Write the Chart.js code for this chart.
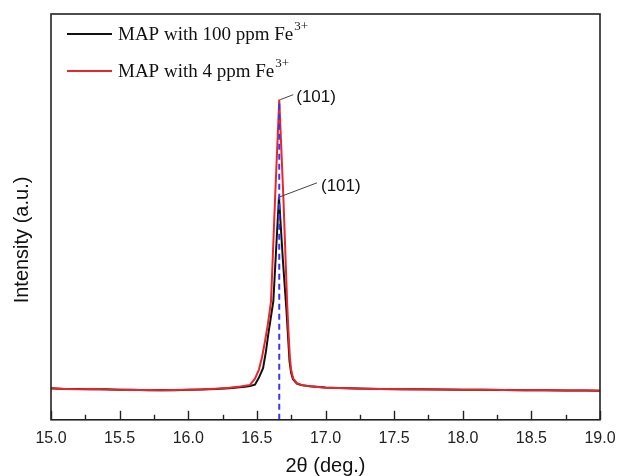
<!DOCTYPE html>
<html>
<head>
<meta charset="utf-8">
<script src="https://cdn.jsdelivr.net/npm/chart.js@4.4.1/dist/chart.umd.min.js"></script>
<style>
  html, body { margin: 0; padding: 0; background: #fff; }
  #wrap { width: 617px; height: 476px; }
</style>
</head>
<body>
<div id="wrap"><canvas id="c" width="617" height="476"></canvas></div>
<script>
// ---- data ----
const seriesNames = ["MAP with 100 ppm Fe", "MAP with 4 ppm Fe"];
const seriesSup = ["3+", "3+"];

const black2theta = [15.00, 15.10, 15.20, 15.30, 15.40, 15.50, 15.60, 15.70, 15.80, 15.90, 16.00, 16.10, 16.20, 16.30, 16.413, 16.450, 16.486, 16.515, 16.545, 16.566, 16.583, 16.603, 16.620, 16.661, 16.690, 16.716, 16.727, 16.738, 16.749, 16.763, 16.792, 16.822, 16.887, 17.00, 17.10, 17.25, 17.40, 17.55, 17.70, 17.85, 18.00, 18.15, 18.30, 18.45, 18.60, 18.75, 18.90, 19.00];
const blackIntensity = [7.75, 7.62, 7.58, 7.50, 7.52, 7.38, 7.42, 7.30, 7.34, 7.28, 7.40, 7.45, 7.60, 7.80, 8.17, 8.34, 8.66, 10.40, 12.70, 16.83, 21.04, 25.50, 29.21, 54.95, 39.11, 26.73, 20.54, 14.36, 11.63, 10.02, 8.91, 8.54, 8.24, 7.95, 7.85, 7.70, 7.62, 7.55, 7.50, 7.46, 7.42, 7.40, 7.36, 7.30, 7.28, 7.24, 7.20, 7.18];

const red2theta = [15.00, 15.10, 15.20, 15.30, 15.40, 15.50, 15.60, 15.70, 15.80, 15.90, 16.00, 16.10, 16.20, 16.30, 16.380, 16.450, 16.486, 16.515, 16.537, 16.559, 16.581, 16.603, 16.632, 16.663, 16.694, 16.720, 16.730, 16.740, 16.749, 16.765, 16.792, 16.827, 16.887, 17.00, 17.10, 17.25, 17.40, 17.55, 17.70, 17.85, 18.00, 18.15, 18.30, 18.45, 18.60, 18.75, 18.90, 19.00];
const redIntensity = [7.70, 7.60, 7.52, 7.56, 7.44, 7.42, 7.36, 7.34, 7.26, 7.32, 7.42, 7.52, 7.68, 7.90, 8.20, 8.59, 10.15, 12.38, 15.35, 19.31, 23.76, 29.21, 53.96, 78.89, 53.96, 29.21, 21.78, 15.59, 12.38, 10.15, 9.03, 8.59, 8.24, 7.92, 7.82, 7.68, 7.60, 7.55, 7.48, 7.45, 7.42, 7.38, 7.35, 7.30, 7.26, 7.22, 7.20, 7.18];

const peak2theta = 16.663;            // dashed reference line position
const peakLabels = ["(101)", "(101)"];
const peakLabelX = [16.663, 16.661];  // label anchors (red peak, black peak)
const peakLabelY = [78.89, 54.95];

const xTickValues = [15.0, 15.5, 16.0, 16.5, 17.0, 17.5, 18.0, 18.5, 19.0];
const xTitle = "2\u03B8 (deg.)";
const yTitle = "Intensity (a.u.)";

// ---- build datasets ----
const toPts = (xs, ys) => xs.map((x, i) => ({ x: x, y: ys[i] }));

const COLORS = ["#111111", "#e8262b"];
const BLUE = "#3838ee";

const decorPlugin = {
  id: "decor",
  afterDraw(chart) {
    const ctx = chart.ctx;
    const a = chart.chartArea;
    const xs = chart.scales.x, ys = chart.scales.y;
    ctx.save();
    // frame
    ctx.strokeStyle = "#222";
    ctx.lineWidth = 1.6;
    ctx.strokeRect(a.left, a.top, a.right - a.left, a.bottom - a.top);
    // inward ticks on bottom axis (major + minor)
    ctx.lineWidth = 1.4;
    for (let i = 0; i <= 16; i++) {
      const v = 15 + i * 0.25;
      const px = Math.round(xs.getPixelForValue(v)) + 0.5;
      const len = (i % 2 === 0) ? 9 : 5;
      ctx.beginPath();
      ctx.moveTo(px, a.bottom);
      ctx.lineTo(px, a.bottom - len);
      ctx.stroke();
    }
    // peak annotations with leader lines
    const offs = [[14, -5, 17, -2], [38, -14, 42, -11]];
    ctx.font = "17px 'Liberation Sans', Arial, sans-serif";
    ctx.textBaseline = "middle";
    ctx.textAlign = "left";
    for (let k = 0; k < peakLabels.length; k++) {
      const px = xs.getPixelForValue(peakLabelX[k]);
      const py = ys.getPixelForValue(peakLabelY[k]);
      const o = offs[k];
      ctx.strokeStyle = "#444";
      ctx.lineWidth = 1;
      ctx.beginPath();
      ctx.moveTo(px + 1, py);
      ctx.lineTo(px + o[0], py + o[1]);
      ctx.stroke();
      ctx.fillStyle = "#111";
      ctx.fillText(peakLabels[k], px + o[2], py + o[3]);
    }
    // legend (custom, with superscripts)
    const legY = [34, 71];
    for (let k = 0; k < seriesNames.length; k++) {
      ctx.strokeStyle = COLORS[k];
      ctx.lineWidth = 2;
      ctx.beginPath();
      ctx.moveTo(67, legY[k]);
      ctx.lineTo(112, legY[k]);
      ctx.stroke();
      ctx.fillStyle = "#111";
      ctx.font = "19px 'Liberation Serif', 'Times New Roman', serif";
      ctx.textBaseline = "middle";
      ctx.fillText(seriesNames[k], 118, legY[k] + 1);
      const w = ctx.measureText(seriesNames[k]).width;
      ctx.font = "13px 'Liberation Serif', 'Times New Roman', serif";
      ctx.fillText(seriesSup[k], 118 + w + 1, legY[k] - 7);
    }
    // y title
    ctx.save();
    ctx.translate(22, 240);
    ctx.rotate(-Math.PI / 2);
    ctx.font = "20px 'Liberation Sans', Arial, sans-serif";
    ctx.textAlign = "center";
    ctx.textBaseline = "middle";
    ctx.fillStyle = "#111";
    ctx.fillText(yTitle, 0, 0);
    ctx.restore();
    ctx.restore();
  }
};

new Chart(document.getElementById("c"), {
  type: "line",
  data: {
    datasets: [
      {
        label: "ref",
        data: [{ x: peak2theta, y: 0 }, { x: peak2theta, y: 78.89 }],
        borderColor: BLUE,
        borderWidth: 2,
        borderDash: [6, 4],
        pointRadius: 0,
        order: 0
      },
      {
        label: seriesNames[1],
        data: toPts(red2theta, redIntensity),
        borderColor: COLORS[1],
        borderWidth: 2,
        pointRadius: 0,
        tension: 0,
        order: 1
      },
      {
        label: seriesNames[0],
        data: toPts(black2theta, blackIntensity),
        borderColor: COLORS[0],
        borderWidth: 2,
        pointRadius: 0,
        tension: 0,
        order: 2
      }
    ]
  },
  options: {
    responsive: false,
    animation: false,
    devicePixelRatio: 1,
    layout: { padding: { left: 51, right: 17, top: 14, bottom: 0 } },
    plugins: { legend: { display: false }, tooltip: { enabled: false } },
    scales: {
      x: {
        type: "linear",
        min: 15, max: 19,
        afterBuildTicks: (s) => { s.ticks = xTickValues.map(v => ({ value: v })); },
        afterFit: (s) => { s.paddingLeft = 0; s.paddingRight = 0; },
        grid: { display: false, drawTicks: false },
        border: { display: false },
        ticks: {
          padding: 9,
          color: "#222",
          font: { family: "'Liberation Sans', Arial, sans-serif", size: 16 },
          callback: (v) => Number(v).toFixed(1),
          maxRotation: 0,
          autoSkip: false
        },
        title: {
          display: true,
          text: xTitle,
          color: "#111",
          padding: { top: 0, bottom: 0 },
          font: { family: "'Liberation Sans', Arial, sans-serif", size: 20, lineHeight: 0.95 }
        }
      },
      y: {
        display: false,
        min: 0, max: 100
      }
    }
  },
  plugins: [decorPlugin]
});
</script>
</body>
</html>
